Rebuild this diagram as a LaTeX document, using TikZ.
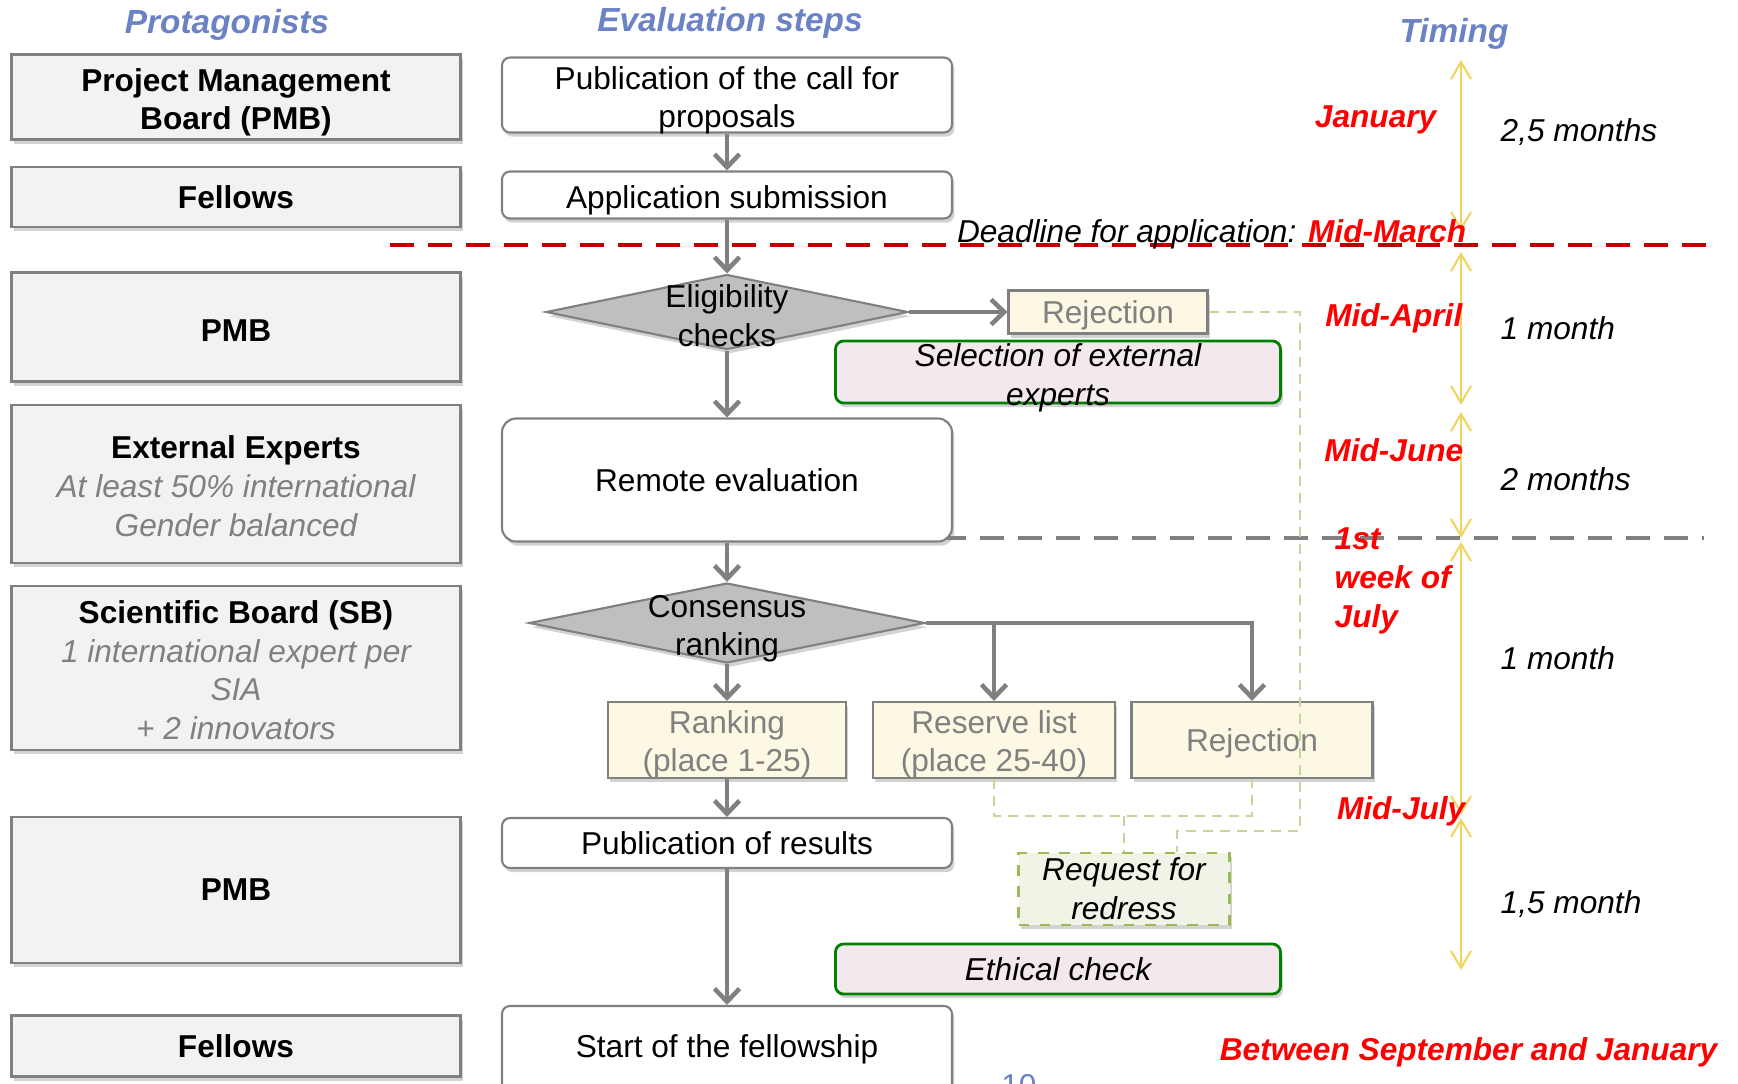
\documentclass[tikz,border=0pt]{standalone}
\usepackage{fontspec}
\setmainfont{Liberation Sans}
\usepackage{tikz}
\usetikzlibrary{
arrows.meta,
shapes.geometric,
shadows,
}

\definecolor{headblue}{RGB}{107,131,196}
\definecolor{boxgray}{RGB}{242,242,242}
\definecolor{linegray}{RGB}{128,128,128}
\definecolor{diagray}{RGB}{191,191,191}
\definecolor{rejyellow}{RGB}{253,248,228}
\definecolor{selpink}{RGB}{242,232,238}
\definecolor{selgreen}{RGB}{0,128,0}
\definecolor{appealfill}{RGB}{240,243,230}
\definecolor{appealline}{RGB}{155,187,89}
\definecolor{linkgreen}{RGB}{196,215,155}
\definecolor{deadred}{RGB}{192,0,0}
\definecolor{timeyellow}{RGB}{240,214,96}
\definecolor{monthred}{RGB}{255,0,0}

\newcommand{\actornote}[1]{{\mdseries\itshape\color{linegray}#1}}

\tikzset{
  every node/.style={font=\fontsize{9}{11}\selectfont, align=center},
  boxshadow/.style={drop shadow={shadow xshift=0.7pt, shadow yshift=-1.2pt, opacity=0.35}},
  heading/.style={text=headblue, inner sep=0pt, font=\fontsize{9.5}{11}\selectfont\bfseries\itshape},
  actor/.style={boxshadow, draw=linegray, line width=0.6pt, fill=boxgray, minimum width=44.9mm,
    inner sep=1pt, font=\fontsize{9}{11}\selectfont\bfseries},
  actortext/.style={font=\fontsize{9}{11}\selectfont\bfseries},
  stepbox/.style={boxshadow, draw=linegray, line width=0.6pt, fill=white, rounded corners=0.8mm,
    minimum width=45mm, inner sep=1pt},
  decision/.style={boxshadow, diamond, draw=linegray, line width=0.6pt, fill=diagray, inner sep=0pt},
  outcome/.style={boxshadow, draw=linegray, line width=0.6pt, fill=rejyellow, text=linegray, inner sep=1pt},
  outcometext/.style={text=linegray},
  pinkbox/.style={boxshadow, draw=selgreen, line width=0.8pt, fill=selpink, rounded corners=0.8mm,
    minimum width=44.5mm, inner sep=1pt},
  pinktext/.style={font=\fontsize{9}{11}\selectfont\itshape},
  appealbox/.style={boxshadow, draw=appealline, dashed, line width=0.6pt, fill=appealfill, inner sep=1pt,
    font=\fontsize{9}{11}\selectfont\itshape},
  flow/.style={draw=linegray, line width=1.3pt, -{Straight Barb[length=1.3mm, width=2.5mm]}},
  link/.style={draw=linkgreen, line width=0.6pt, dash pattern=on 1mm off 0.7mm},
  period/.style={draw=timeyellow, line width=0.6pt,
    {Straight Barb[length=1.7mm, width=2mm]}-{Straight Barb[length=1.7mm, width=2mm]}},
  deadline/.style={draw=deadred, line width=1.3pt, dash pattern=on 2.4mm off 1.4mm},
  cutoff/.style={draw=linegray, line width=1.3pt, dash pattern=on 2.4mm off 1.4mm},
  month/.style={text=monthred, inner sep=0pt, font=\fontsize{9}{11}\selectfont\bfseries\itshape},
  duration/.style={inner sep=0pt, anchor=west, font=\fontsize{9}{11}\selectfont\itshape},
}

\begin{document}
\begin{tikzpicture}[x=0.1mm, y=-0.1mm]
  \useasboundingbox (0,0) rectangle (1738,1084);

  \coordinate (deadL) at (390,245);
  \coordinate (deadR) at (1707,245);
  \coordinate (julyL) at (942,538);
  \coordinate (julyR) at (1704,538);
  \draw[deadline] (deadL) -- (deadR);
  \draw[cutoff] (julyL) -- (julyR);

  \node[heading] (hprot) at (227,25) {Protagonists};
  \node[heading] (hsteps) at (730,23) {Evaluation steps};
  \node[heading] (htime) at (1454,34) {Timing};

  \node[actor, minimum height=8.5mm] (pmba) at (236,97) {};
  \node[actortext] (pmbatxt) at ([yshift=-1.5pt]pmba) {Project Management\\Board (PMB)};
  \node[actor, minimum height=6mm] (fella) at (236,197) {Fellows};
  \node[actor, minimum height=10.9mm] (pmbb) at (236,327) {};
  \node[actortext] (pmbbtxt) at ([yshift=-0.9pt]pmbb) {PMB};
  \node[actor, minimum height=15.8mm] (extexp) at (236,484) {};
  \node[actortext] (extexptxt) at ([yshift=-0.6pt]extexp)
    {External Experts\\\actornote{At least 50\% international}\\\actornote{Gender balanced}};
  \node[actor, minimum height=16.4mm] (sb) at (236,668) {};
  \node[actortext] (sbtxt) at ([yshift=-0.6pt]sb)
    {Scientific Board (SB)\\\actornote{1 international expert per}\\\actornote{SIA}\\\actornote{+ 2 innovators}};
  \node[actor, minimum height=14.6mm] (pmbc) at (236,890) {PMB};
  \node[actor, minimum height=6.1mm] (fellb) at (236,1046) {Fellows};

  \node[stepbox, minimum height=7.5mm] (call) at (727,95) {};
  \node (calltxt) at ([yshift=-1.5pt]call) {Publication of the call for\\proposals};
  \node[stepbox, minimum height=4.7mm] (submit) at (727,195) {};
  \node (submittxt) at ([yshift=-1.5pt]submit) {Application submission};
  \node[decision, minimum width=36.2mm, minimum height=7.5mm] (elig) at (727,312) {};
  \node (eligtxt) at ([yshift=-1pt]elig) {Eligibility\\checks};
  \node[outcome, minimum width=19.9mm, minimum height=4.3mm] (rejA) at (1108,312) {};
  \node[outcometext] (rejAtxt) at ([yshift=-0.9pt]rejA) {Rejection};
  \node[pinkbox, minimum height=6.2mm] (select) at (1058,372) {};
  \node[pinktext] (selecttxt) at ([yshift=-1.6pt]select) {Selection of external\\experts};
  \node[stepbox, rounded corners=1.4mm, minimum height=12.3mm] (remote) at (727,480) {Remote evaluation};
  \node[decision, minimum width=39.6mm, minimum height=8mm] (cons) at (727,623) {};
  \node (constxt) at ([yshift=-1.6pt]cons) {Consensus\\ranking};
  \node[outcome, minimum width=23.8mm, minimum height=7.6mm] (rank) at (727,740) {};
  \node[outcometext] (ranktxt) at ([yshift=-1.2pt]rank) {Ranking\\(place 1-25)};
  \node[outcome, minimum width=24.2mm, minimum height=7.6mm] (reserve) at (994,740) {};
  \node[outcometext] (reservetxt) at ([yshift=-1.2pt]reserve) {Reserve list\\(place 25-40)};
  \node[outcome, minimum width=24.1mm, minimum height=7.6mm] (rejB) at (1252,740) {};
  \node[outcometext] (rejBtxt) at ([yshift=-0.9pt]rejB) {Rejection};
  \node[stepbox, minimum height=5mm] (results) at (727,843) {Publication of results};
  \node[appealbox, minimum width=21.1mm, minimum height=7.2mm] (appeal) at (1124,889) {Request for\\redress};
  \node[pinkbox, minimum height=5mm, pinktext] (ethic) at (1058,969) {Ethical check};
  \node[stepbox, minimum height=8.6mm] (start) at (727,1049) {Start of the fellowship};

  \draw[flow] (call) -- (submit);
  \draw[flow] (submit) -- (elig);
  \draw[flow] (elig) -- (rejA);
  \draw[flow] (elig) -- (remote);
  \draw[flow] (remote) -- (cons);
  \draw[flow] (cons) -- (rank);
  \draw[flow] (cons.east) -| (rejB.north);
  \draw[flow] (cons.east -| reserve.north) -- (reserve.north);
  \draw[flow] (rank) -- (results);
  \draw[flow] (results) -- (start);

  \coordinate (fork) at (1124,816);
  \coordinate (rejturn) at (1300,831);
  \draw[link] (reserve.south) |- (fork) -| (rejB.south);
  \draw[link] (fork) -- (appeal.north);
  \draw[link] (rejA.east) -| (rejturn) -| ([xshift=5.3mm]appeal.north);

  \coordinate (ta) at (1461,60);
  \coordinate (tb) at (1461,231);
  \coordinate (tc) at (1461,252);
  \coordinate (td) at (1461,405);
  \coordinate (te) at (1461,412);
  \coordinate (tf) at (1461,538);
  \coordinate (tg) at (1461,542);
  \coordinate (th) at (1461,815);
  \coordinate (ti) at (1461,818);
  \coordinate (tj) at (1461,970);
  \draw[period] (ta) -- (tb);
  \draw[period] (tc) -- (td);
  \draw[period] (te) -- (tf);
  \draw[period] (tg) -- (th);
  \draw[period] (ti) -- (tj);

  \node[anchor=base east, inner sep=0pt] (deadtxt) at (1467,242)
    {\itshape Deadline for application: {\color{monthred}\bfseries Mid-March}};

  \node[month, anchor=east] (jan) at (1437,120) {January};
  \node[month, anchor=east] (midapr) at (1463,318) {Mid-April};
  \node[month, anchor=east] (midjun) at (1464,450) {Mid-June};
  \node[month, anchor=west, align=left] (firstjul) at (1334,581) {1st\\week of\\July};
  \node[month, anchor=east] (midjul) at (1466,811) {Mid-July};
  \node[month, anchor=east] (sepjan) at (1718,1052) {Between September and January};

  \node[duration] (dura) at (1500,132) {2,5 months};
  \node[duration] (durb) at (1500,328) {1 month};
  \node[duration] (durc) at (1500,479) {2 months};
  \node[duration] (durd) at (1500,658) {1 month};
  \node[duration] (dure) at (1500,904) {1,5 month};

  \node[anchor=north, inner sep=0pt, text=headblue] (pageno) at (1019,1074) {10};
\end{tikzpicture}
\end{document}
